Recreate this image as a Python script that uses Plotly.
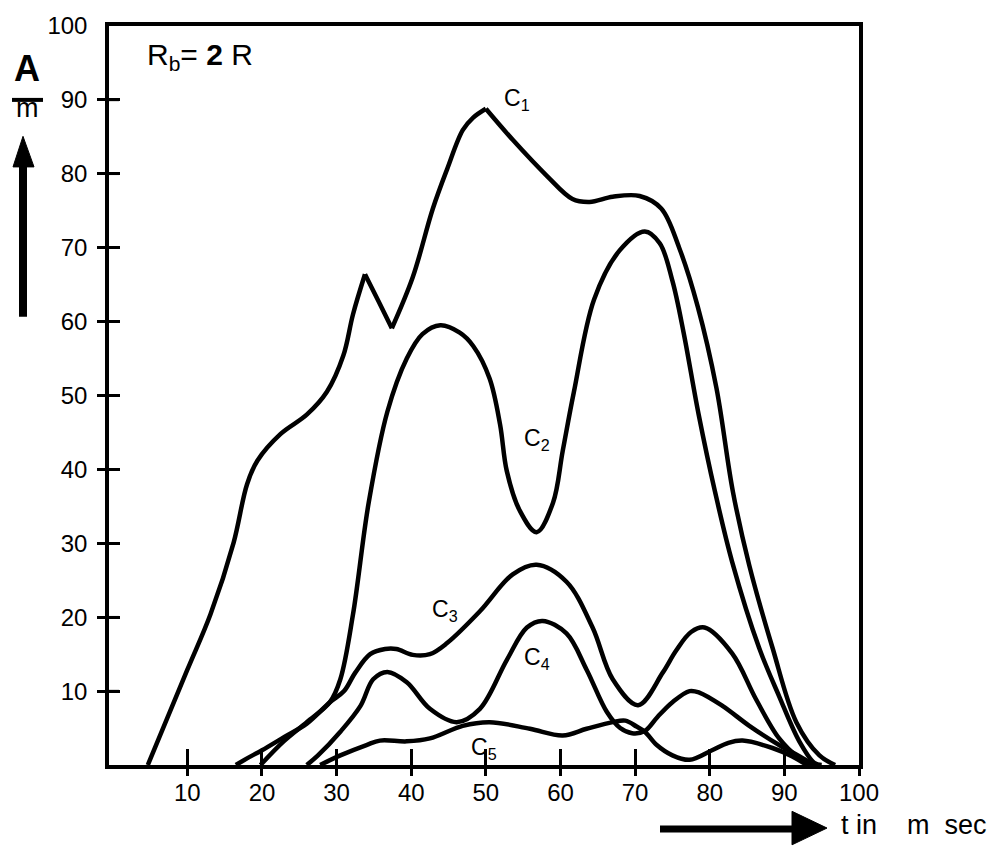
import plotly.graph_objects as go

# ---------------- data ----------------
c1_t = [4.7, 10.0, 13.1, 16.2, 18.0, 19.4, 22.5, 26.0, 28.7, 30.9, 32.2, 33.8,
        35.6, 37.4, 40.2, 42.9, 44.8, 46.9, 48.3, 50.0, 53.6, 58.2, 61.6, 63.9, 67.0,
        70.6, 73.5, 75.9, 78.4, 80.9, 83.1, 85.3, 88.4, 91.6, 94.7, 96.8]
c1_v = [0.0, 12.9, 20.4, 30.1, 38.0, 41.2, 44.8, 47.4, 50.5, 55.4, 61.0, 66.4,
        62.8, 59.1, 66.0, 75.3, 80.6, 85.9, 87.6, 88.8, 84.6, 79.7, 76.6, 76.2, 76.9,
        77.0, 75.3, 70.0, 62.0, 51.0, 37.0, 27.0, 15.9, 5.8, 1.3, 0.0]
c1_corners = [33.8, 37.4, 50.0]

c2_t = [19.8, 22.9, 26.0, 29.1, 30.5, 32.2, 34.3, 36.8, 39.4, 41.5, 43.9, 46.5,
        48.3, 50.5, 51.9, 52.8, 54.5, 56.8, 59.0, 60.3, 61.8, 64.5, 67.9, 71.3,
        73.3, 75.0, 76.5, 78.5, 80.7, 83.0, 86.6, 89.3, 92.0, 94.0, 95.0]
c2_v = [0.0, 3.2, 5.8, 8.5, 11.6, 20.4, 35.5, 47.8, 55.0, 58.3, 59.5, 58.5,
        56.7, 52.3, 46.1, 39.8, 34.5, 31.5, 35.5, 42.5, 50.5, 63.0, 69.6, 72.2,
        70.6, 65.5, 58.5, 47.5, 37.0, 27.5, 15.9, 9.3, 3.2, 0.3, 0.0]

c3_t = [16.5, 18.0, 20.0, 23.0, 26.0, 29.1, 31.0, 32.5, 34.5, 36.5, 38.0, 40.2,
        42.5, 44.8, 49.2, 53.6, 56.8, 60.8, 64.3, 67.0, 70.4, 73.7, 75.5, 77.5,
        79.3, 83.0, 86.2, 89.3, 92.0, 93.5]
c3_v = [0.0, 0.9, 2.0, 3.8, 5.6, 8.5, 10.0, 12.5, 15.0, 15.7, 15.7, 14.9,
        15.0, 16.5, 20.8, 25.8, 27.1, 24.8, 18.6, 11.6, 8.1, 12.5, 15.5, 18.0,
        18.6, 15.1, 8.9, 3.6, 0.9, 0.0]

c4_t = [26.0, 27.5, 30.5, 33.2, 34.9, 36.8, 39.4, 42.5, 46.1, 49.2, 52.8, 55.5,
        57.6, 60.8, 63.5, 66.2, 68.0, 69.6, 71.3, 73.0, 75.0, 77.3, 78.6, 81.7,
        85.3, 89.3, 92.0, 94.0]
c4_v = [0.0, 1.3, 4.5, 8.0, 11.6, 12.6, 11.2, 7.6, 5.8, 7.6, 14.2, 18.6,
        19.5, 17.8, 12.9, 7.2, 5.0, 4.3, 4.6, 6.5, 8.5, 10.0, 9.8, 8.0,
        5.3, 2.7, 1.2, 0.0]

c5_t = [27.8, 30.5, 34.0, 35.8, 39.4, 42.5, 46.9, 50.5, 55.9, 60.3, 63.5, 67.0,
        68.7, 70.2, 71.3, 72.9, 75.0, 77.3, 80.3, 82.5, 84.4, 88.4, 91.0, 93.0]
c5_v = [0.0, 1.3, 2.7, 3.3, 3.2, 3.6, 5.3, 5.8, 4.9, 4.0, 4.9, 5.8,
        6.0, 5.2, 4.5, 2.7, 1.3, 0.7, 2.0, 3.0, 3.3, 2.3, 1.2, 0.0]

x_ticks = [10, 20, 30, 40, 50, 60, 70, 80, 90, 100]
y_ticks = [10, 20, 30, 40, 50, 60, 70, 80, 90, 100]
inner_ticks = [10, 20, 30, 40, 50, 60, 70, 80, 90]

curve_labels = ["C<sub>1</sub>", "C<sub>2</sub>", "C<sub>3</sub>", "C<sub>4</sub>", "C<sub>5</sub>"]

# ---------------- layout geometry (pixels) ----------------
W, H = 996, 846
PL, PR, PT, PB = 109, 859, 15, 765


def fx(p):
    return (p - PL) / (PR - PL)


def fy(p):
    return (PB - p) / (PB - PT)


FONT = "Liberation Sans, Arial, sans-serif"
fig = go.Figure()


def add_curve(xs, ys):
    fig.add_trace(go.Scatter(x=xs, y=ys, mode="lines",
                             line=dict(color="black", width=4.5, shape="spline", smoothing=1.0),
                             showlegend=False, hoverinfo="skip"))


# C1 drawn in pieces so that its sharp corners stay sharp
idx = [0] + [c1_t.index(c) for c in c1_corners] + [len(c1_t) - 1]
for a, b in zip(idx[:-1], idx[1:]):
    add_curve(c1_t[a:b + 1], c1_v[a:b + 1])
add_curve(c2_t, c2_v)
add_curve(c3_t, c3_v)
add_curve(c4_t, c4_v)
add_curve(c5_t, c5_v)

# carrier for the overlay axes holding the extra tick marks
fig.add_trace(go.Scatter(x=[50], y=[50], xaxis="x2", yaxis="y2", mode="markers",
                         marker=dict(opacity=0), showlegend=False, hoverinfo="skip"))

axis_common = dict(showline=True, linecolor="black", linewidth=3.5, mirror=True,
                   showgrid=False, zeroline=False, tickcolor="black",
                   tickwidth=2.5, tickfont=dict(family=FONT, size=24, color="black"))

fig.update_layout(
    width=W, height=H,
    margin=dict(l=PL, r=W - PR, t=PT, b=H - PB, pad=0),
    paper_bgcolor="white", plot_bgcolor="white",
    xaxis=dict(range=[-0.5, 100], tickvals=x_ticks, ticktext=[str(v) for v in x_ticks],
               ticks="outside", ticklen=7, ticklabelstandoff=-4, **axis_common),
    yaxis=dict(range=[0, 100], tickvals=y_ticks, ticktext=[str(v) for v in y_ticks],
               ticks="inside", ticklen=11, ticklabelstandoff=13, **axis_common),
    xaxis2=dict(range=[-0.5, 100], overlaying="x", anchor="y2", side="bottom",
                tickvals=inner_ticks, ticks="inside", ticklen=16, tickwidth=2.5,
                tickcolor="black", showticklabels=False, showline=False,
                showgrid=False, zeroline=False),
    yaxis2=dict(range=[0, 100], overlaying="y", anchor="free", position=0, side="left",
                tickvals=inner_ticks, ticks="outside", ticklen=12, tickwidth=2.5,
                tickcolor="black", showticklabels=False, showline=False,
                showgrid=False, zeroline=False),
)

# ---------------- texts ----------------
ann = []
ann.append(dict(text="R<sub>b</sub>= <b>2</b> R", x=fx(145), y=fy(46), xanchor="left",
                yanchor="middle", font=dict(family=FONT, size=30, color="black")))
label_pos = [(517, 90), (537, 435), (445, 608), (537, 657), (484, 748)]
for t, (lx, ly) in zip(curve_labels, label_pos):
    ann.append(dict(text=t, x=fx(lx), y=fy(ly), xanchor="center", yanchor="middle",
                    font=dict(family=FONT, size=23, color="black")))
# unit label A / m (fraction bar is a shape below)
ann.append(dict(text="<b>A</b>", x=fx(27), y=fy(81), xanchor="center", yanchor="bottom",
                font=dict(family=FONT, size=36, color="black")))
ann.append(dict(text="m", x=fx(27), y=fy(81), xanchor="center", yanchor="top",
                font=dict(family=FONT, size=27, color="black")))
ann.append(dict(text="t in&nbsp;&nbsp;&nbsp; m&nbsp; sec", x=fx(839), y=fy(826),
                xanchor="left", yanchor="middle",
                font=dict(family=FONT, size=27, color="black")))
for a in ann:
    a.update(xref="paper", yref="paper", showarrow=False)
fig.update_layout(annotations=ann)

# ---------------- decorations (fraction bar, arrows, inward y ticks) ----------------
shapes = [
    dict(type="line", xref="paper", yref="paper", x0=fx(12), x1=fx(43), y0=fy(90), y1=fy(90),
         line=dict(color="black", width=4)),
    dict(type="line", xref="paper", yref="paper", x0=fx(23), x1=fx(23), y0=fy(310), y1=fy(150),
         line=dict(color="black", width=8)),
    dict(type="path", xref="paper", yref="paper",
         path=f"M {fx(13)} {fy(158)} L {fx(23)} {fy(127)} L {fx(34)} {fy(158)} Z",
         fillcolor="black", line=dict(color="black", width=1)),
    dict(type="line", xref="paper", yref="paper", x0=fx(660), x1=fx(797), y0=fy(830), y1=fy(830),
         line=dict(color="black", width=7)),
    dict(type="path", xref="paper", yref="paper",
         path=f"M {fx(792)} {fy(812)} L {fx(827)} {fy(829)} L {fx(792)} {fy(846)} Z",
         fillcolor="black", line=dict(color="black", width=1)),
]
for v in inner_ticks:
    shapes.append(dict(type="line", xref="paper", yref="y", x0=0, x1=fx(PL + 10),
                       y0=v, y1=v, line=dict(color="black", width=2.5)))
fig.update_layout(shapes=shapes)

fig.write_html("out.html", config={"displayModeBar": False},
               post_script="document.body.style.margin='0';")
